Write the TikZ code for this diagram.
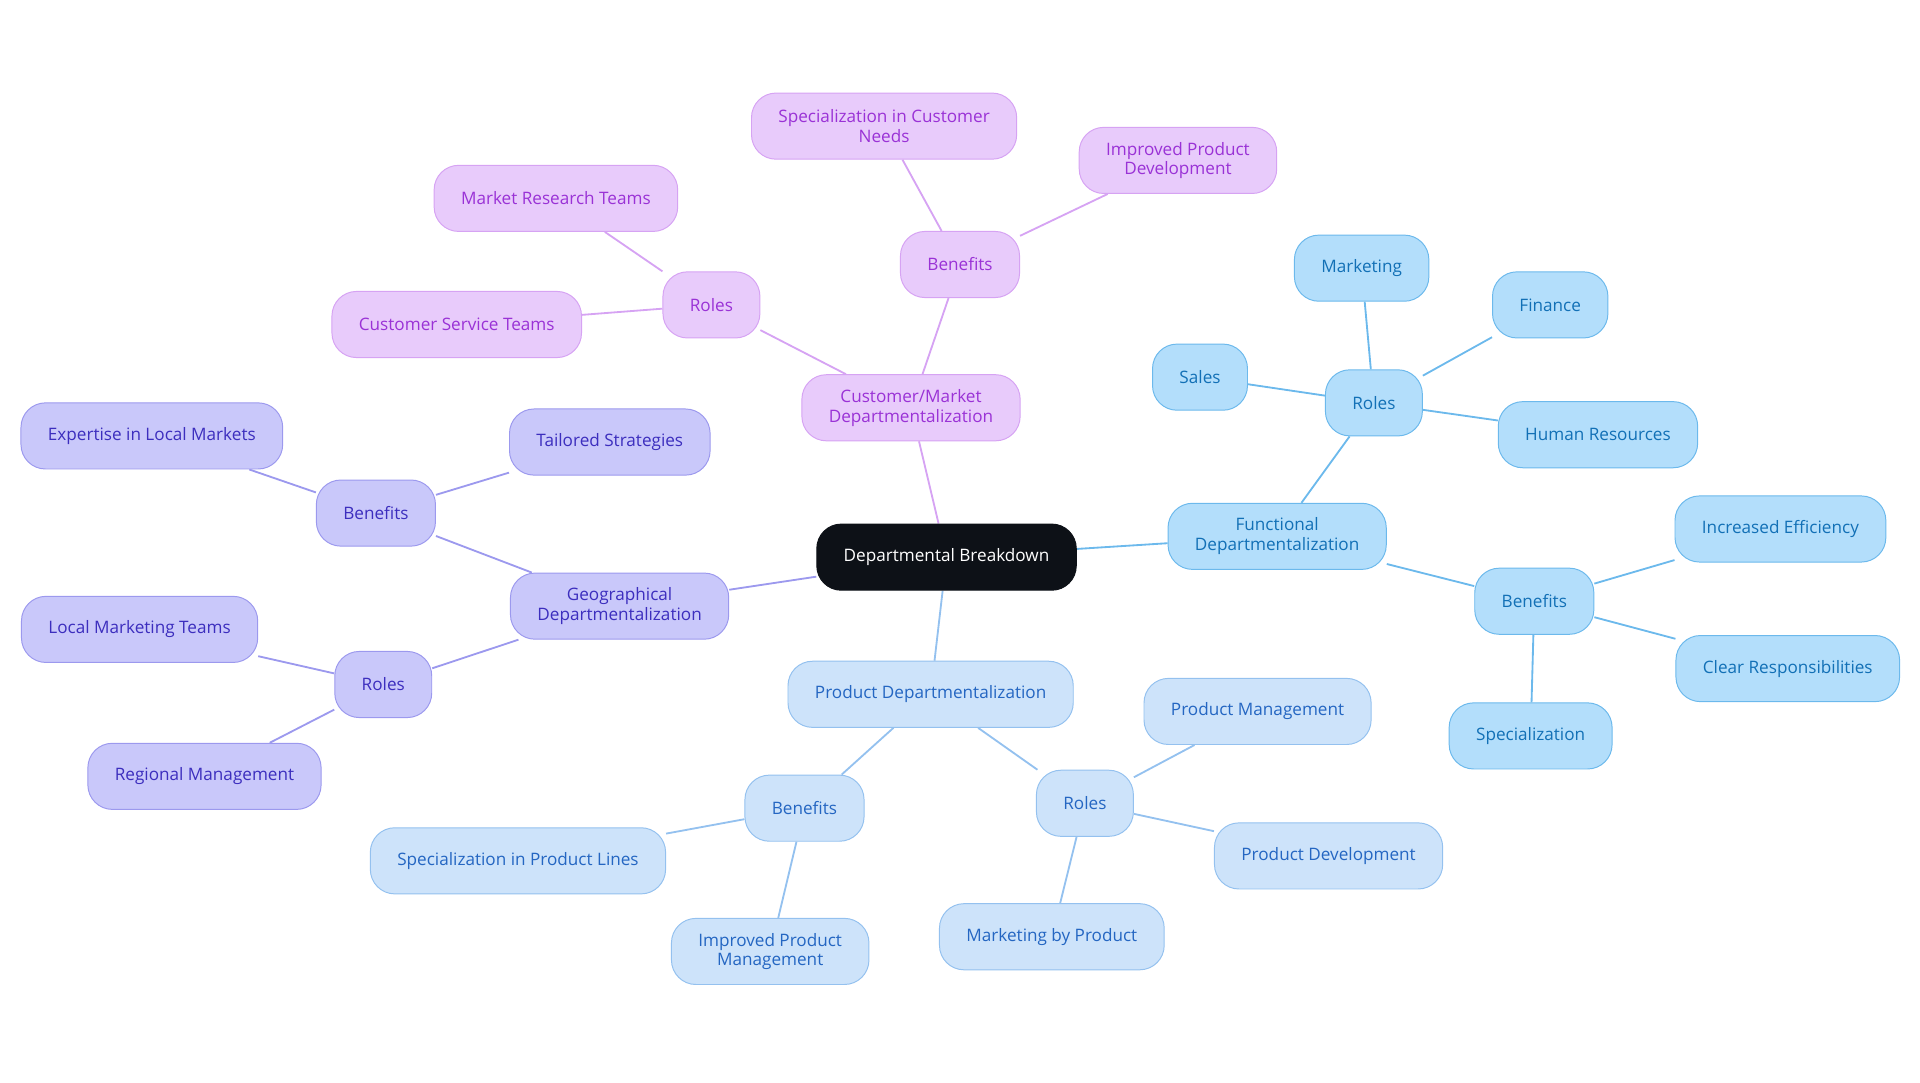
\documentclass[tikz,border=0pt]{standalone}
\usepackage{fontspec}
\setmainfont{Open Sans}
\usetikzlibrary{backgrounds}
\definecolor{pf}{HTML}{E8CBFB}\definecolor{pb}{HTML}{D6A3F3}\definecolor{pt}{HTML}{9A32D6}
\definecolor{gf}{HTML}{C9C8FA}\definecolor{gb}{HTML}{9C99EE}\definecolor{gt}{HTML}{3C2EBE}
\definecolor{ff}{HTML}{B3DEFB}\definecolor{fb}{HTML}{6CB9EC}\definecolor{ft}{HTML}{1270B6}
\definecolor{df}{HTML}{CDE3FA}\definecolor{db}{HTML}{94C1EF}\definecolor{dt}{HTML}{2466C2}
\definecolor{cf}{HTML}{0D1117}
\tikzset{
 base/.style={rounded corners=20pt,inner xsep=22pt,minimum height=54pt,align=center,font=\fontsize{14}{16}\selectfont,line width=0.8pt},
 pn/.style={base,fill=pf,draw=pb,text=pt},
 gn/.style={base,fill=gf,draw=gb,text=gt},
 fn/.style={base,fill=ff,draw=fb,text=ft},
 dn/.style={base,fill=df,draw=db,text=dt},
 cn/.style={base,fill=cf,draw=cf,text=white},
 pe/.style={draw=pb,line width=1.5pt},
 ge/.style={draw=gb,line width=1.5pt},
 fe/.style={draw=fb,line width=1.5pt},
 de/.style={draw=db,line width=1.5pt},
}
\begin{document}
\begin{tikzpicture}[x=1pt,y=-1pt]
\useasboundingbox (0,0) rectangle (1568,884);
\node[cn] (c) at (773,455) {Departmental Breakdown};
\node[pn] (cm) at (744,333) {Customer/Market\\Departmentalization};
\node[pn] (pb1) at (784,216) {Benefits};
\node[pn] (p1) at (722,103) {Specialization in Customer\\Needs};
\node[pn] (p2) at (962,131) {Improved Product\\Development};
\node[pn] (pr) at (581,249) {Roles};
\node[pn] (p3) at (454,162) {Market Research Teams};
\node[pn] (p4) at (373,265) {Customer Service Teams};
\node[gn] (g) at (506,495) {Geographical\\Departmentalization};
\node[gn] (gb1) at (307,419) {Benefits};
\node[gn] (g1) at (498,361) {Tailored Strategies};
\node[gn] (g2) at (124,356) {Expertise in Local Markets};
\node[gn] (gr) at (313,559) {Roles};
\node[gn] (g3) at (114,514) {Local Marketing Teams};
\node[gn] (g4) at (167,634) {Regional Management};
\node[fn] (f) at (1043,438) {Functional\\Departmentalization};
\node[fn] (fr) at (1122,329) {Roles};
\node[fn] (f1) at (1112,219) {Marketing};
\node[fn] (f2) at (1266,249) {Finance};
\node[fn] (f3) at (980,308) {Sales};
\node[fn] (f4) at (1305,355) {Human Resources};
\node[fn] (fb1) at (1253,491) {Benefits};
\node[fn] (f5) at (1454,432) {Increased Efficiency};
\node[fn] (f6) at (1460,546) {Clear Responsibilities};
\node[fn] (f7) at (1250,601) {Specialization};
\node[dn] (d) at (760,567) {Product Departmentalization};
\node[dn] (db1) at (657,660) {Benefits};
\node[dn] (d1) at (423,703) {Specialization in Product Lines};
\node[dn] (d2) at (629,777) {Improved Product\\Management};
\node[dn] (dr) at (886,656) {Roles};
\node[dn] (d3) at (1027,581) {Product Management};
\node[dn] (d4) at (1085,699) {Product Development};
\node[dn] (d5) at (859,765) {Marketing by Product};
\begin{scope}[on background layer]
\path[pe] (c)--(cm) (cm)--(pb1) (pb1)--(p1) (pb1)--(p2) (cm)--(pr) (pr)--(p3) (pr)--(p4);
\path[ge] (c)--(g) (g)--(gb1) (gb1)--(g1) (gb1)--(g2) (g)--(gr) (gr)--(g3) (gr)--(g4);
\path[fe] (c)--(f) (f)--(fr) (fr)--(f1) (fr)--(f2) (fr)--(f3) (fr)--(f4) (f)--(fb1) (fb1)--(f5) (fb1)--(f6) (fb1)--(f7);
\path[de] (c)--(d) (d)--(db1) (db1)--(d1) (db1)--(d2) (d)--(dr) (dr)--(d3) (dr)--(d4) (dr)--(d5);
\end{scope}
\end{tikzpicture}
\end{document}
